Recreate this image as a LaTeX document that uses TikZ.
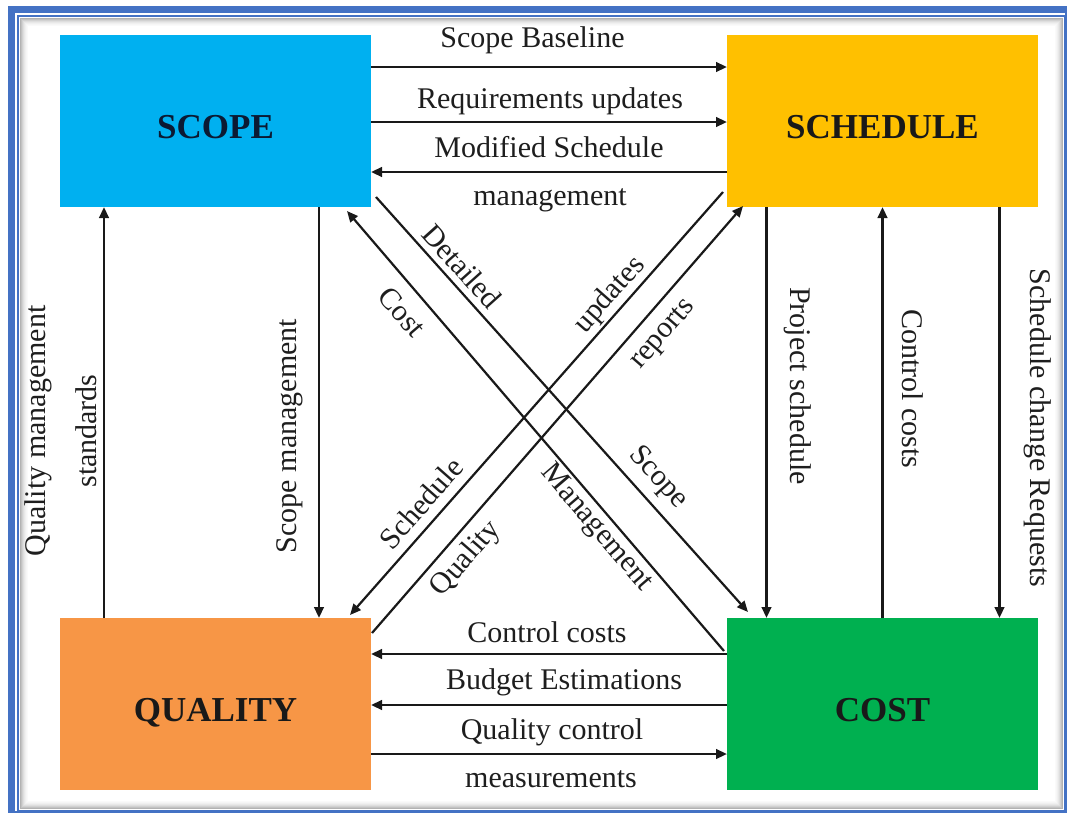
\documentclass[tikz,border=0pt]{standalone}
\usepackage{fontspec}
\setmainfont{Liberation Serif}
\usetikzlibrary{arrows.meta,calc}
\definecolor{frameblue}{HTML}{4472C4}
\definecolor{scopec}{HTML}{00B0F0}
\definecolor{schedc}{HTML}{FFC000}
\definecolor{qualc}{HTML}{F79646}
\definecolor{costc}{HTML}{00B050}
\definecolor{txt}{HTML}{1E1E1E}
\definecolor{scopetxt}{HTML}{0B1A33}
\begin{document}
\begin{tikzpicture}[x=1pt,y=-1pt,
  box/.style={minimum width=311pt, minimum height=172pt, inner sep=0pt, outer sep=0pt,
    font=\fontsize{35}{40}\selectfont\bfseries, text height=34pt, text depth=0pt, text=black!90},
  arr/.style={line width=2.5pt, draw=black!90, -{Triangle[length=11pt,width=9.5pt]}},
  darr/.style={line width=2.2pt, draw=black!90, -{Triangle[length=11pt,width=9.5pt]}},
  lab/.style={font=\fontsize{30}{34}\selectfont, text=txt, inner sep=0pt},
]
\useasboundingbox (0,0) rectangle (1070,814);
\fill[white] (0,0) rectangle (1070,814);
% frame
\fill[frameblue] (8,6) rectangle (1067,813);
\fill[white] (15,13) rectangle (1065,811);
\draw[frameblue, line width=1.8pt] (18,16) rectangle (1064.5,810.5);
\foreach \i/\o in {1/0.30,2/0.24,3/0.18,4/0.13,5/0.09,6/0.06,7/0.035,8/0.018}
  \draw[black, opacity=\o, line width=1pt] (19+\i,17+\i) rectangle (1063.5-\i,809.5-\i);

% boxes
\node[box, fill=scopec, text=scopetxt] (scope) at (215.5,121) {SCOPE};
\node[box, fill=schedc] (sched) at (882.5,121) {SCHEDULE};
\node[box, fill=qualc] (qual) at (215.5,704) {QUALITY};
\node[box, fill=costc] (cost) at (882.5,704) {COST};

% horizontal connectors (top)
\draw[arr] ([yshift=54pt]scope.east) -- ([yshift=54pt]sched.west);
\draw[arr] ([yshift=-1pt]scope.east) -- ([yshift=-1pt]sched.west);
\draw[arr] ([yshift=-51pt]sched.west) -- ([yshift=-51pt]scope.east);
% horizontal connectors (bottom)
\draw[arr] ([yshift=50pt]cost.west) -- ([yshift=50pt]qual.east);
\draw[arr] ([yshift=-1pt]cost.west) -- ([yshift=-1pt]qual.east);
\draw[arr] ([yshift=-50pt]qual.east) -- ([yshift=-50pt]cost.west);

% vertical connectors
\draw[arr] ([xshift=-111.5pt]qual.north) -- ([xshift=-111.5pt]scope.south);
\draw[arr] ([xshift=103.5pt]scope.south) -- ([xshift=103.5pt]qual.north);
\draw[arr] ([xshift=-116pt]sched.south) -- ([xshift=-116pt]cost.north);
\draw[arr] ([xshift=0pt]cost.north) -- ([xshift=0pt]sched.south);
\draw[arr] ([xshift=117pt]sched.south) -- ([xshift=117pt]cost.north);

% diagonal connectors
\coordinate (d1s) at ($(scope.south east)+(5,-10)$);
\coordinate (d1e) at ($(cost.north west)+(21,-6)$);
\coordinate (d2s) at ($(cost.north west)+(-3,33)$);
\coordinate (d2e) at ($(scope.south east)+(-24,4)$);
\coordinate (d3s) at ($(sched.south west)+(-4,-15)$);
\coordinate (d3e) at ($(qual.north east)+(-21,-3)$);
\coordinate (d4s) at ($(qual.north east)+(1,15)$);
\coordinate (d4e) at ($(sched.south west)+(16,-1)$);
\draw[darr] (d1s) -- (d1e);
\draw[darr] (d2s) -- (d2e);
\draw[darr] (d3s) -- (d3e);
\draw[darr] (d4s) -- (d4e);

% horizontal labels
\node[lab, anchor=base] (lSB) at (532.5,47) {Scope Baseline};
\node[lab, anchor=base] (lRU) at (550,108) {Requirements updates};
\node[lab, anchor=base] (lMS) at (549,157) {Modified Schedule};
\node[lab, anchor=base] (lMM) at (550,205) {management};
\node[lab, anchor=base] (lCC) at (547,642) {Control costs};
\node[lab, anchor=base] (lBE) at (564,689) {Budget Estimations};
\node[lab, anchor=base] (lQC) at (552,739) {Quality control};
\node[lab, anchor=base] (lME) at (551,787) {measurements};

% vertical labels
\node[lab, rotate=90] (lQM) at (38.5,431) {Quality management};
\node[lab, rotate=90] (lST) at (86.5,431) {standards};
\node[lab, rotate=90] (lSM) at (290,436) {Scope management};
\node[lab, rotate=-90] (lPS) at (797.5,386) {Project schedule};
\node[lab, rotate=-90] (lCR) at (912.5,389) {Control costs};
\node[lab, rotate=-90] (lSC) at (1038,428) {Schedule change Requests};

% diagonal labels
\node[lab, rotate=-48.1] (lDet) at (462,266) {Detailed};
\node[lab, rotate=-48.1] (lSco) at (658,478) {Scope};
\node[lab, rotate=-49.4] (lCos) at (402,312) {Cost};
\node[lab, rotate=-49.4] (lMan) at (596,528) {Management};
\node[lab, rotate=48.6] (lUpd) at (610,295) {updates};
\node[lab, rotate=48.6] (lSch) at (421,503) {Schedule};
\node[lab, rotate=49] (lRep) at (664,335) {reports};
\node[lab, rotate=49] (lQua) at (466,559) {Quality};
\end{tikzpicture}
\end{document}
